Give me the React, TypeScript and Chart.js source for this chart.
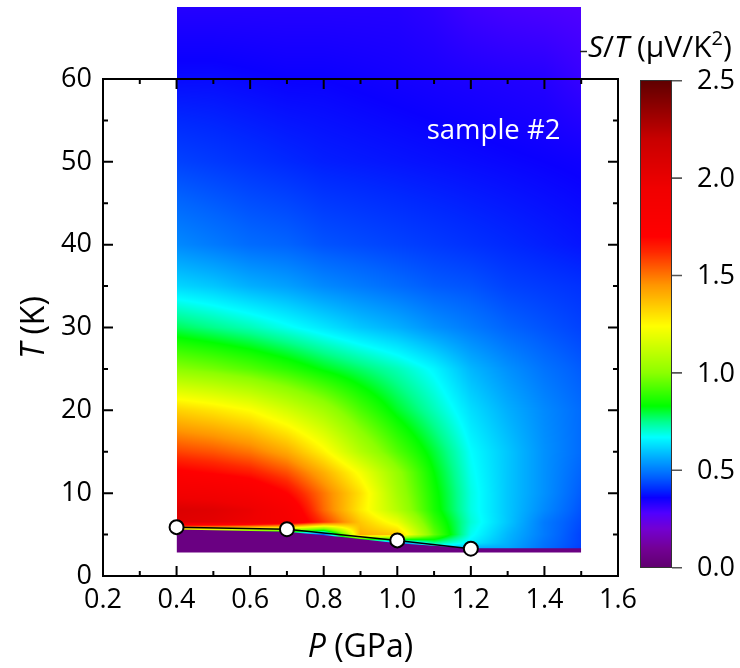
import React, { useEffect, useRef } from "react";
import { Chart, registerables } from "chart.js";

Chart.register(...registerables);

const FONT = "'Open Sans', 'Noto Sans', sans-serif";

// ---- heat-map grid (S/T in µV/K²) ----
const pressures = [0.4, 0.5, 0.6, 0.7, 0.8, 0.9, 1.0, 1.1, 1.2, 1.3, 1.4, 1.5];
const temps = [2.85, 4, 5, 6.5, 8, 10, 12.5, 15, 20, 25, 30, 35, 40, 50, 60, 68.7];

const rowT2_85 = [0.5, 0.5, 0.5, 0.5, 0.45, 0.45, 0.45, 0.5, 0.5, 0.55, 0.48, 0.42];
const rowT4 = [0.5, 0.5, 0.5, 0.5, 0.45, 0.45, 0.5, 0.75, 0.65, 0.57, 0.49, 0.43];
const rowT5 = [0.6, 0.6, 0.58, 0.55, 0.45, 1.4, 1.35, 0.95, 0.68, 0.58, 0.5, 0.43];
const rowT6_5 = [2.05, 2.02, 1.95, 1.85, 1.6, 1.35, 1.2, 0.9, 0.7, 0.6, 0.5, 0.44];
const rowT8 = [2.08, 2.05, 1.98, 1.82, 1.52, 1.28, 1.08, 0.86, 0.69, 0.6, 0.52, 0.45];
const rowT10 = [1.9, 1.88, 1.82, 1.7, 1.5, 1.3, 1.05, 0.85, 0.69, 0.6, 0.53, 0.46];
const rowT12_5 = [1.72, 1.69, 1.65, 1.56, 1.4, 1.22, 1.02, 0.83, 0.68, 0.6, 0.53, 0.47];
const rowT15 = [1.58, 1.55, 1.5, 1.41, 1.26, 1.08, 0.93, 0.8, 0.67, 0.6, 0.53, 0.48];
const rowT20 = [1.33, 1.29, 1.24, 1.15, 1.05, 0.92, 0.81, 0.72, 0.63, 0.57, 0.52, 0.48];
const rowT25 = [1.0, 0.97, 0.93, 0.88, 0.82, 0.77, 0.72, 0.66, 0.58, 0.53, 0.49, 0.46];
const rowT30 = [0.78, 0.75, 0.72, 0.68, 0.64, 0.6, 0.57, 0.53, 0.5, 0.47, 0.45, 0.43];
const rowT35 = [0.62, 0.6, 0.57, 0.55, 0.52, 0.5, 0.48, 0.46, 0.45, 0.43, 0.42, 0.41];
const rowT40 = [0.52, 0.5, 0.48, 0.47, 0.45, 0.44, 0.43, 0.42, 0.41, 0.4, 0.39, 0.38];
const rowT50 = [0.43, 0.42, 0.41, 0.4, 0.39, 0.385, 0.38, 0.375, 0.37, 0.365, 0.36, 0.355];
const rowT60 = [0.37, 0.37, 0.365, 0.36, 0.36, 0.355, 0.35, 0.345, 0.34, 0.335, 0.33, 0.31];
const rowT68_7 = [0.33, 0.33, 0.33, 0.33, 0.33, 0.33, 0.33, 0.32, 0.3, 0.29, 0.285, 0.28];

const grid = [
  rowT2_85, rowT4, rowT5, rowT6_5, rowT8, rowT10, rowT12_5, rowT15,
  rowT20, rowT25, rowT30, rowT35, rowT40, rowT50, rowT60, rowT68_7,
];

// ---- superconducting transition points ----
const tcP = [0.4, 0.7, 1.0, 1.2];
const tcT = [5.9, 5.65, 4.3, 3.3];

// ---- superconducting (S≈0) region upper edge ----
const scEdgeP = [0.4, 0.7, 0.85, 1.0, 1.2, 1.5];
const scEdgeT = [5.6, 5.35, 4.7, 3.95, 3.35, 3.35];
const scBaseT = 2.85;
const scValue = 0.05;

// ---- axes ----
const xTicks = [0.2, 0.4, 0.6, 0.8, 1.0, 1.2, 1.4, 1.6];
const xMinor = [0.3, 0.5, 0.7, 0.9, 1.1, 1.3, 1.5];
const yTicks = [0, 10, 20, 30, 40, 50, 60];
const yMinor = [5, 15, 25, 35, 45, 55];
const cbTicks = [0.0, 0.5, 1.0, 1.5, 2.0, 2.5];
const cbMin = 0;
const cbMax = 2.5;

// ---- colour map (Origin-like rainbow) ----
const cmapVals = [0.0, 0.1, 0.2, 0.28, 0.36, 0.4, 0.47, 0.57, 0.67, 0.75, 0.83, 1.0, 1.24, 1.45, 1.62, 1.7, 1.95, 2.2, 2.5];
const cmapRGB = [
  [96, 0, 110], [115, 0, 150], [115, 0, 210], [80, 0, 255], [10, 0, 255],
  [0, 40, 255], [0, 100, 255], [0, 175, 255], [0, 255, 255], [0, 255, 140],
  [0, 255, 0], [140, 255, 0], [255, 255, 0], [255, 150, 0], [255, 40, 0],
  [255, 0, 0], [240, 0, 0], [200, 0, 0], [95, 0, 0],
];

function cmap(v: number): number[] {
  if (v <= cmapVals[0]) return cmapRGB[0];
  const n = cmapVals.length;
  if (v >= cmapVals[n - 1]) return cmapRGB[n - 1];
  let i = 0;
  while (i < n - 2 && v > cmapVals[i + 1]) i++;
  const t = (v - cmapVals[i]) / (cmapVals[i + 1] - cmapVals[i]);
  const a = cmapRGB[i], b = cmapRGB[i + 1];
  return [a[0] + (b[0] - a[0]) * t, a[1] + (b[1] - a[1]) * t, a[2] + (b[2] - a[2]) * t];
}
const cmapCss = (v: number) => {
  const c = cmap(v);
  return `rgb(${Math.round(c[0])},${Math.round(c[1])},${Math.round(c[2])})`;
};

function segIndex(arr: number[], v: number): [number, number] {
  if (v <= arr[0]) return [0, 0];
  const n = arr.length;
  if (v >= arr[n - 1]) return [n - 2, 1];
  let i = 0;
  while (i < n - 2 && v > arr[i + 1]) i++;
  return [i, (v - arr[i]) / (arr[i + 1] - arr[i])];
}

function sample(P: number, T: number): number {
  const [i, fx] = segIndex(pressures, P);
  const [j, fy] = segIndex(temps, T);
  const v00 = grid[j][i], v10 = grid[j][i + 1];
  const v01 = grid[j + 1][i], v11 = grid[j + 1][i + 1];
  const a = v00 + (v10 - v00) * fx;
  const b = v01 + (v11 - v01) * fx;
  return a + (b - a) * fy;
}

const heatmapPlugin = {
  id: "heatmap",
  beforeDraw(chart: any) {
    const xs = chart.scales.x, ys = chart.scales.y;
    const left = Math.round(xs.getPixelForValue(pressures[0]));
    const right = Math.round(xs.getPixelForValue(pressures[pressures.length - 1]));
    const top = Math.round(ys.getPixelForValue(temps[temps.length - 1]));
    const bottom = Math.round(ys.getPixelForValue(temps[0]));
    const w = right - left, h = bottom - top;
    if (w <= 0 || h <= 0) return;
    const off = document.createElement("canvas");
    off.width = w; off.height = h;
    const octx = off.getContext("2d")!;
    const img = octx.createImageData(w, h);
    for (let j = 0; j < h; j++) {
      const T = ys.getValueForPixel(top + j + 0.5);
      for (let i = 0; i < w; i++) {
        const P = xs.getValueForPixel(left + i + 0.5);
        const c = cmap(sample(P, T));
        const k = (j * w + i) * 4;
        img.data[k] = c[0]; img.data[k + 1] = c[1]; img.data[k + 2] = c[2]; img.data[k + 3] = 255;
      }
    }
    octx.putImageData(img, 0, 0);
    chart.ctx.drawImage(off, left, top);
  },
};

type Part = { t: string; it?: boolean; sup?: boolean };
function drawRich(ctx: CanvasRenderingContext2D, parts: Part[], x: number, y: number, size: number, align: "left" | "center") {
  const fontOf = (p: Part) => `${p.it ? "italic " : ""}${p.sup ? Math.round(size * 0.66) : size}px ${FONT}`;
  const widths = parts.map((p) => { ctx.font = fontOf(p); return ctx.measureText(p.t).width; });
  const total = widths.reduce((a, b) => a + b, 0);
  let cx = align === "center" ? x - total / 2 : x;
  ctx.textAlign = "left";
  ctx.textBaseline = "alphabetic";
  parts.forEach((p, k) => {
    ctx.font = fontOf(p);
    ctx.fillText(p.t, cx, p.sup ? y - size * 0.4 : y);
    cx += widths[k];
  });
}

const framePlugin = {
  id: "frame",
  afterDatasetsDraw(chart: any) {
    const { ctx, chartArea: ca } = chart;
    const xs = chart.scales.x, ys = chart.scales.y;
    ctx.save();
    ctx.strokeStyle = "#000";
    ctx.lineWidth = 2;
    ctx.lineCap = "butt";
    const major = 10, minor = 5;
    ctx.beginPath();
    const xt = (v: number, len: number) => {
      const px = xs.getPixelForValue(v);
      ctx.moveTo(px, ca.bottom); ctx.lineTo(px, ca.bottom - len);
      ctx.moveTo(px, ca.top); ctx.lineTo(px, ca.top + len);
    };
    const yt = (v: number, len: number) => {
      const py = ys.getPixelForValue(v);
      ctx.moveTo(ca.left, py); ctx.lineTo(ca.left + len, py);
      ctx.moveTo(ca.right, py); ctx.lineTo(ca.right - len, py);
    };
    xTicks.forEach((v) => xt(v, major));
    xMinor.forEach((v) => xt(v, minor));
    yTicks.forEach((v) => yt(v, major));
    yMinor.forEach((v) => yt(v, minor));
    ctx.stroke();
    ctx.strokeRect(ca.left, ca.top, ca.right - ca.left, ca.bottom - ca.top);
    ctx.restore();
  },
  afterDraw(chart: any) {
    const { ctx, chartArea: ca } = chart;
    const xs = chart.scales.x, ys = chart.scales.y;
    ctx.save();
    ctx.fillStyle = "#000";
    // axis titles
    drawRich(ctx, [{ t: "P", it: true }, { t: " (GPa)" }], (ca.left + ca.right) / 2, 657, 32, "center");
    ctx.save();
    ctx.translate(44, (ca.top + ca.bottom) / 2);
    ctx.rotate(-Math.PI / 2);
    drawRich(ctx, [{ t: "T", it: true }, { t: " (K)" }], 0, 0, 32, "center");
    ctx.restore();

    // annotation
    ctx.fillStyle = "#fff";
    ctx.font = `27.5px ${FONT}`;
    ctx.textAlign = "left";
    ctx.textBaseline = "alphabetic";
    ctx.fillText("sample #2", xs.getPixelForValue(1.08), ys.getPixelForValue(52.8));

    // colour bar
    const cbLeft = ca.right + 22, cbW = 32;
    const cbTop = ca.top + 1.7, cbBottom = ca.bottom - 8.3;
    const cbH = cbBottom - cbTop;
    const vToY = (v: number) => cbBottom - ((v - cbMin) / (cbMax - cbMin)) * cbH;
    for (let y = Math.floor(cbTop); y < Math.ceil(cbBottom); y++) {
      const v = cbMin + ((cbBottom - (y + 0.5)) / cbH) * (cbMax - cbMin);
      ctx.fillStyle = cmapCss(v);
      ctx.fillRect(cbLeft, y, cbW, 1);
    }
    ctx.strokeStyle = "#333";
    ctx.lineWidth = 1;
    ctx.strokeRect(cbLeft + 0.5, Math.floor(cbTop) + 0.5, cbW - 1, Math.ceil(cbBottom) - Math.floor(cbTop) - 1);
    ctx.strokeStyle = "#555";
    ctx.lineWidth = 1.6;
    ctx.beginPath();
    cbTicks.forEach((v) => {
      const y = vToY(v);
      ctx.moveTo(cbLeft + cbW, y); ctx.lineTo(cbLeft + cbW + 10, y);
    });
    ctx.stroke();
    ctx.fillStyle = "#000";
    ctx.font = `27px ${FONT}`;
    ctx.textAlign = "left";
    ctx.textBaseline = "middle";
    cbTicks.forEach((v) => ctx.fillText(v.toFixed(1), cbLeft + cbW + 25, vToY(v) + 1));

    // colour bar title
    ctx.strokeStyle = "#222";
    ctx.lineWidth = 1.5;
    ctx.beginPath();
    ctx.moveTo(580, 51.5); ctx.lineTo(587, 51.5);
    ctx.stroke();
    drawRich(ctx, [
      { t: "S", it: true }, { t: "/" }, { t: "T", it: true }, { t: " (μV/K" }, { t: "2", sup: true }, { t: ")" },
    ], 588, 57, 30, "left");
    ctx.restore();
  },
};

export default function App() {
  const ref = useRef<HTMLCanvasElement | null>(null);
  useEffect(() => {
    if (!ref.current) return;
    const tickFont = { family: FONT, size: 27 };
    const chart = new Chart(ref.current, {
      type: "line",
      data: {
        datasets: [
          {
            label: "Tc",
            data: tcP.map((p, i) => ({ x: p, y: tcT[i] })),
            borderColor: "#000",
            borderWidth: 1.5,
            pointRadius: 7,
            pointBorderWidth: 2,
            pointBackgroundColor: "#fff",
            pointBorderColor: "#000",
            fill: false,
            tension: 0,
            order: 1,
            clip: false as any,
          },
          {
            label: "SC",
            data: scEdgeP.map((p, i) => ({ x: p, y: scEdgeT[i] })),
            borderWidth: 0,
            pointRadius: 0,
            backgroundColor: cmapCss(scValue),
            fill: { value: scBaseT } as any,
            tension: 0,
            order: 2,
          },
        ],
      },
      options: {
        animation: false,
        responsive: false,
        layout: { padding: { top: 79, right: 122, left: 0, bottom: 0 } },
        plugins: { legend: { display: false }, tooltip: { enabled: false } },
        scales: {
          x: {
            type: "linear",
            min: 0.2,
            max: 1.6,
            grid: { display: false, drawTicks: false },
            border: { display: false },
            afterBuildTicks: (s: any) => { s.ticks = xTicks.map((value) => ({ value })); },
            afterFit: (s: any) => { s.height = 92; },
            ticks: {
              autoSkip: false,
              maxRotation: 0,
              padding: 8,
              color: "#000",
              font: tickFont,
              callback: (v: any) => Number(v).toFixed(1),
            },
          },
          y: {
            type: "linear",
            min: 0,
            max: 60,
            grid: { display: false, drawTicks: false },
            border: { display: false },
            afterBuildTicks: (s: any) => { s.ticks = yTicks.map((value) => ({ value })); },
            afterFit: (s: any) => { s.width = 103; },
            ticks: {
              autoSkip: false,
              padding: 11,
              color: "#000",
              font: tickFont,
              callback: (v: any) => String(Math.round(Number(v))),
            },
          },
        },
      },
      plugins: [heatmapPlugin, framePlugin],
    });
    return () => chart.destroy();
  }, []);
  return (
    <div style={{ position: "absolute", left: 0, top: 0, width: 740, height: 668, background: "#fff" }}>
      <canvas ref={ref} width={740} height={668} style={{ display: "block" }} />
    </div>
  );
}
